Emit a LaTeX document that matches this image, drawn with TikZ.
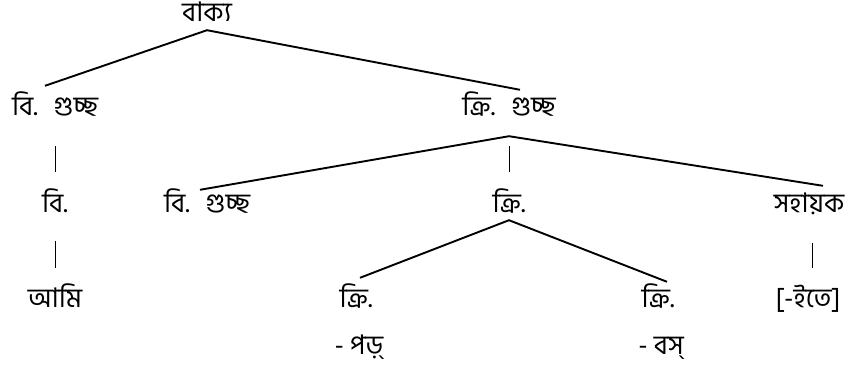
\documentclass[tikz,border=0pt]{standalone}
\usepackage{fontspec}
\newfontfamily\bnfont[Script=Bengali]{Hind Siliguri}
\begin{document}
\begin{tikzpicture}[x=1pt,y=1pt,
  word/.style={font=\bnfont\fontsize{27}{30}\selectfont, inner sep=0pt,
    text height=20pt, text depth=6pt},
  branch/.style={line width=1.9pt},
  vbar/.style={line width=0.8pt}]
\useasboundingbox (0,0) rectangle (852,-376);
% top of the tree
\node[word] (vakya) at (207,-14) {বাক্য};
\node[word] (bg1) at (55,-108) {বি.\hspace{0.6em}গুচ্ছ};
\node[word] (kg) at (509,-108) {ক্রি.\hspace{0.6em}গুচ্ছ};
% third row
\node[word] (bi) at (55,-205) {বি.};
\node[word] (bg2) at (207,-205) {বি.\hspace{0.6em}গুচ্ছ};
\node[word] (kri) at (509,-205) {ক্রি.};
\node[word] (sahayak) at (809,-205) {সহায়ক};
% leaves
\node[word] (ami) at (55,-300) {আমি};
\node[word] (kri1) at (356,-300) {ক্রি.};
\node[word] (kri2) at (658,-300) {ক্রি.};
\node[word] (itey) at (808,-300) {[-ইতে]};
\node[word] (por) at (359,-347) {- পড়্};
\node[word] (bos) at (661,-347) {- বস্};
% branches
\draw[branch] ([xshift=-10pt,yshift=9pt]bg1.north) -- ([yshift=-3pt]vakya.south)
  -- ([xshift=11pt,yshift=5pt]kg.north);
\draw[branch] ([xshift=-7pt,yshift=2pt]bg2.north) -- ([yshift=-15pt]kg.south)
  -- ([xshift=14pt,yshift=6pt]sahayak.north);
\draw[branch] ([xshift=4pt,yshift=9pt]kri1.north) -- ([yshift=-2pt]kri.south)
  -- ([xshift=9pt,yshift=5pt]kri2.north);
% single links
\draw[vbar] ([yshift=-25pt]bg1.south) -- ([yshift=20pt]bi.north);
\draw[vbar] ([yshift=-25pt]kg.south) -- ([yshift=20pt]kri.north);
\draw[vbar] ([yshift=-23pt]bi.south) -- ([yshift=19pt]ami.north);
\draw[vbar] ([xshift=3pt,yshift=-25pt]sahayak.south) -- ([xshift=4pt,yshift=19pt]itey.north);
\end{tikzpicture}
\end{document}
